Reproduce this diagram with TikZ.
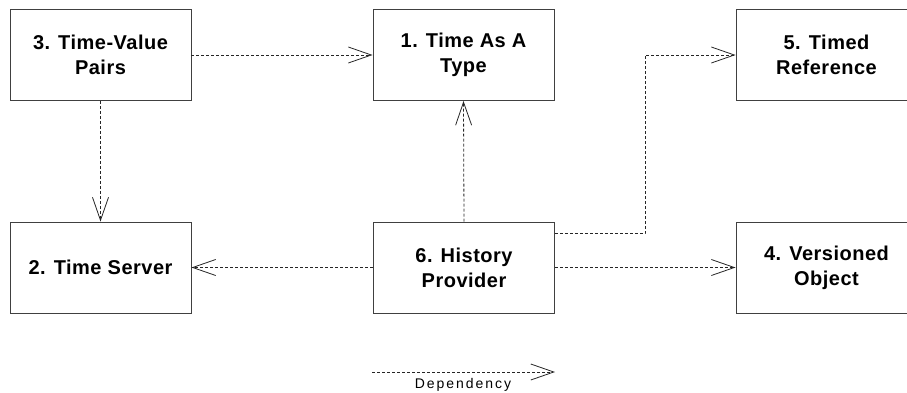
\documentclass[tikz,border=0pt]{standalone}
\usepackage{fontspec}
\setmainfont{Liberation Sans}
\newfontfamily\boxfont{Liberation Sans}[LetterSpace=2.5]
\newfontfamily\legfont{Liberation Sans}[LetterSpace=14]
\usetikzlibrary{arrows.meta,calc}
\begin{document}
\begin{tikzpicture}[x=1pt,y=1pt,
  pkg/.style={draw=black!75,line width=0.9pt,minimum width=181pt,minimum height=91pt,
    align=center,inner sep=0pt,font=\boxfont\bfseries\fontsize{20}{25}\selectfont},
  dep/.style={draw=black!85,line width=0.8pt,dash pattern=on 3pt off 2pt,
    -{Straight Barb[length=23pt,width=16pt,line width=0.8pt]}}]
\useasboundingbox (0,0) rectangle (907,392);
\node[pkg] (p3) at (100.5,337) {3. Time-Value\\Pairs};
\node[pkg] (p1) at (463.5,337) {1. Time As A\\Type};
\node[pkg] (p5) at (826.5,337) {5. Timed\\Reference};
\node[pkg] (p2) at (100.5,124.5) {2. Time Server};
\node[pkg] (p6) at (464,124.5) {6. History\\Provider};
\node[pkg] (p4) at (826.5,124.5) {4. Versioned\\Object};
\draw[dep] (p3.east) -- (p1.west);
\draw[dep] (p3.south) -- (p2.north);
\draw[dep] (p6.north) -- (p1.south);
\draw[dep] (p6.west) -- (p2.east);
\draw[dep] (p6.east) -- (p4.west);
\coordinate (bend) at (645,337);
\coordinate (s5) at ($(p6.north east)+(0,-12)$);
\draw[dep] (s5) -| (bend) -- (p5.west);
\coordinate (la) at (372,20);
\coordinate (lb) at (555,20);
\draw[dep] (la) -- (lb);
\node[anchor=base,inner sep=0pt,font=\legfont\fontsize{14}{16}\selectfont] (lt) at (463,4) {Dependency};
\end{tikzpicture}
\end{document}
